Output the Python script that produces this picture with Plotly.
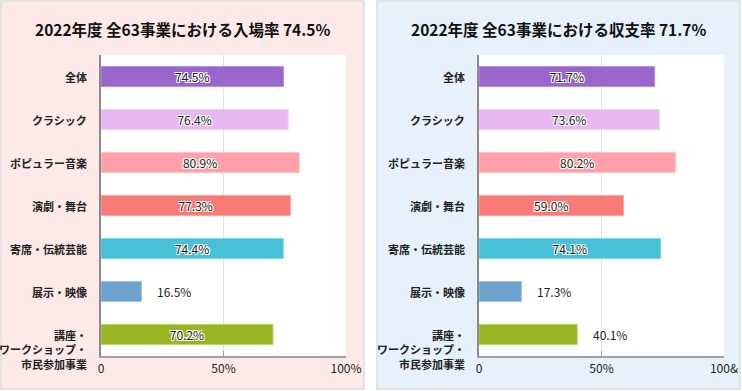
import plotly.graph_objects as go

# ---- data ----
categories = ["全体", "クラシック", "ポピュラー音楽", "演劇・舞台", "寄席・伝統芸能", "展示・映像",
              "講座・<br>ワークショップ・<br>市民参加事業"]
attendance_rate = [74.5, 76.4, 80.9, 77.3, 74.4, 16.5, 70.2]
revenue_rate = [71.7, 73.6, 80.2, 59.0, 74.1, 17.3, 40.1]
titles = ["2022年度 全63事業における入場率 74.5%", "2022年度 全63事業における収支率 71.7%"]
tick_vals = [0, 50, 100]
tick_text_left = ["0", "50%", "100%"]
tick_text_right = ["0", "50%", "100&"]

# ---- styles ----
bar_colors = ["#9966CC", "#E6B9F2", "#FFA1A8", "#F77A76", "#47C1D7", "#6BA3CC", "#99B521"]
bar_lines = ["#B48FDC", "#F1D3F8", "#FFC3C8", "#FBA5A2", "#86D7E6", "#9DC2E0", "#BDD26A"]
W, H = 742, 391
FONT = "Noto Sans CJK JP"
panels = [
    dict(x0=1, x1=364, fill="#FDEAE8", dom=(101, 346), xa="x", ya="y", ticks=tick_text_left,
         vals=attendance_rate, title=titles[0]),
    dict(x0=377, x1=740, fill="#E6F1FC", dom=(479, 724), xa="x2", ya="y2", ticks=tick_text_right,
         vals=revenue_rate, title=titles[1]),
]
plot_top, plot_bottom = 55, 356
halo = "1px 1px 0 #fff, -1px -1px 0 #fff, 1px -1px 0 #fff, -1px 1px 0 #fff, 0 1px 0 #fff, 0 -1px 0 #fff"

fig = go.Figure()
shapes, annotations = [], []
layout_axes = {}

for i, p in enumerate(panels):
    shapes.append(dict(type="rect", xref="paper", yref="paper", layer="below",
                       x0=p["x0"] / W, x1=p["x1"] / W, y0=1 - 389 / H, y1=1 - 1 / H,
                       fillcolor=p["fill"], line=dict(color="#DCDCDC", width=1.5)))
    shapes.append(dict(type="rect", xref="paper", yref="paper", layer="below",
                       x0=p["dom"][0] / W, x1=p["dom"][1] / W,
                       y0=1 - plot_bottom / H, y1=1 - plot_top / H,
                       fillcolor="white", line=dict(width=0)))
    vals = p["vals"]
    inside = [v >= 50 for v in vals]
    fig.add_trace(go.Bar(
        x=vals, y=categories, orientation="h", xaxis=p["xa"], yaxis=p["ya"],
        marker=dict(color=bar_colors, line=dict(color=bar_lines, width=1)),
        text=[f"{v:.1f}%" if ins else "" for v, ins in zip(vals, inside)],
        textposition="inside", insidetextanchor="middle", constraintext="none",
        insidetextfont=dict(family=FONT, size=12, color="#1A1A1A", shadow=halo),
        hoverinfo="skip", showlegend=False, width=0.47,
    ))
    xa_name = "xaxis" if i == 0 else "xaxis2"
    ya_name = "yaxis" if i == 0 else "yaxis2"
    layout_axes[xa_name] = dict(
        domain=[p["dom"][0] / W, p["dom"][1] / W], anchor=p["ya"], range=[0, 100],
        tickvals=tick_vals, ticktext=p["ticks"], showgrid=True, gridcolor="#E2E2E2", gridwidth=1,
        showline=True, linecolor="#A0A0A0", linewidth=2, ticks="inside", ticklen=5,
        tickcolor="#A0A0A0", tickwidth=1, zeroline=False, fixedrange=True, automargin=False,
        tickfont=dict(family=FONT, size=12, color="#222222"), ticklabelstandoff=1,
    )
    layout_axes[ya_name] = dict(
        domain=[1 - plot_bottom / H, 1 - plot_top / H], anchor=p["xa"], type="category",
        autorange="reversed", showticklabels=False, showline=True, linecolor="#8A8A8A",
        linewidth=2, ticks="", showgrid=False, zeroline=False, fixedrange=True, automargin=False,
    )
    # title
    annotations.append(dict(text=p["title"], xref="paper", yref="paper",
                            x=(p["x0"] + p["x1"]) / 2 / W, y=1 - 29 / H,
                            xanchor="center", yanchor="middle", showarrow=False,
                            font=dict(family=FONT, size=15.5, color="#111111", weight=700)))
    # category labels
    xdom = ("x" if i == 0 else "x2") + " domain"
    for c in categories:
        multi = "<br>" in c
        annotations.append(dict(text=c, xref=xdom, yref=p["ya"], x=0, y=c,
                                xanchor="right", yanchor="top" if multi else "middle",
                                yshift=10 if multi else 0, xshift=-12, align="right",
                                showarrow=False,
                                font=dict(family=FONT, size=11, color="#222222", weight=700)))
    # outside value labels
    for c, v, ins in zip(categories, vals, inside):
        if not ins:
            annotations.append(dict(text=f"{v:.1f}%", xref=p["xa"], yref=p["ya"], x=v, y=c,
                                    xanchor="left", yanchor="middle", xshift=14,
                                    showarrow=False,
                                    font=dict(family=FONT, size=12, color="#222222")))

fig.update_layout(
    width=W, height=H, margin=dict(l=0, r=0, t=0, b=0, autoexpand=False),
    paper_bgcolor="white", plot_bgcolor="rgba(0,0,0,0)",
    shapes=shapes, annotations=annotations, bargap=0.53,
    **layout_axes,
)

fig.write_html("out.html", config={"displayModeBar": False},
               post_script="document.body.style.margin='0';document.body.style.padding='0';")
